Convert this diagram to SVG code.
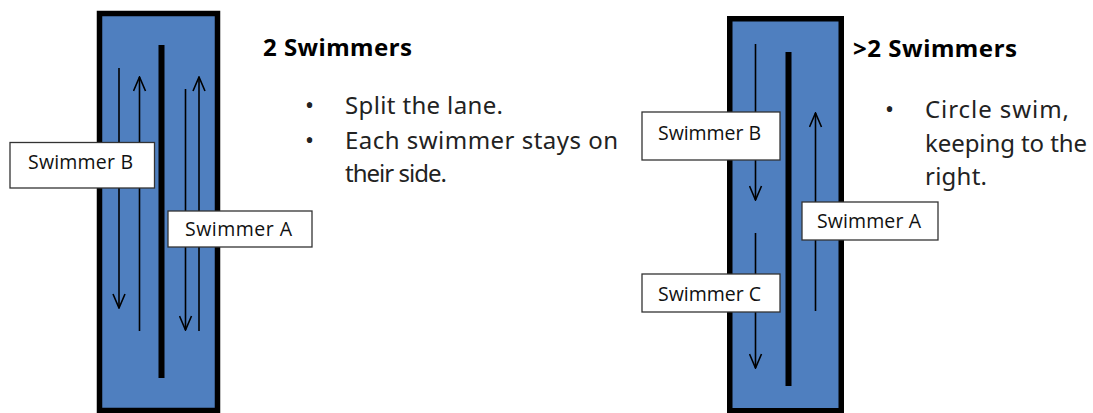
<svg xmlns="http://www.w3.org/2000/svg" width="1093" height="413" viewBox="0 0 1093 413">
<defs>
<style>
.pool{fill:#4f7fbf;stroke:#000;stroke-width:5.5}
.divider{stroke:#000;stroke-width:6}
.arr{stroke:#000;stroke-width:1.6;fill:none}
.box{fill:#fff;stroke:#333;stroke-width:1.3}
.lbl{font-family:"Open Sans","Liberation Sans",sans-serif;font-size:19.5px;fill:#111;text-anchor:middle}
.title{font-family:"Noto Sans","Liberation Sans",sans-serif;font-weight:bold;font-size:24px;fill:#000}
.body{font-family:"Noto Sans","Liberation Sans",sans-serif;font-size:24px;fill:#222}
</style>
<marker id="head" viewBox="0 0 16 14" refX="15" refY="7" markerWidth="16" markerHeight="14" markerUnits="userSpaceOnUse" orient="auto">
<path d="M1,1 L15,7 L1,13" fill="none" stroke="#000" stroke-width="1.6"/>
</marker>
</defs>
<g id="pool-left">
<rect class="pool" x="99.5" y="13.5" width="118" height="397"/>
<line class="divider" x1="161.5" y1="45" x2="161.5" y2="378"/>
</g>
<g id="pool-right">
<rect class="pool" x="729.75" y="18.75" width="111.5" height="392"/>
<line class="divider" x1="788.5" y1="52" x2="788.5" y2="386"/>
</g>
<g id="connectors">
<line class="arr" x1="119" y1="68" x2="119" y2="308" marker-end="url(#head)"/>
<line class="arr" x1="139.5" y1="331" x2="139.5" y2="77" marker-end="url(#head)"/>
<line class="arr" x1="185.5" y1="89" x2="185.5" y2="330" marker-end="url(#head)"/>
<line class="arr" x1="199" y1="331" x2="199" y2="77" marker-end="url(#head)"/>
<line class="arr" x1="755.5" y1="44" x2="755.5" y2="200" marker-end="url(#head)"/>
<line class="arr" x1="755.5" y1="233" x2="755.5" y2="368" marker-end="url(#head)"/>
<line class="arr" x1="815.5" y1="311" x2="815.5" y2="113" marker-end="url(#head)"/>
</g>
<g id="swimmer-b-left">
<rect class="box" x="10" y="142.5" width="144.5" height="45.5"/>
<text class="lbl" x="80.5" y="168.5" textLength="105">Swimmer B</text>
</g>
<g id="swimmer-a-left">
<rect class="box" x="168" y="211" width="144" height="36"/>
<text class="lbl" x="238.5" y="236" textLength="107">Swimmer A</text>
</g>
<g id="swimmer-b-right">
<rect class="box" x="642" y="112" width="138" height="48"/>
<text class="lbl" x="709.5" y="139.5" textLength="103">Swimmer B</text>
</g>
<g id="swimmer-a-right">
<rect class="box" x="802" y="202" width="136" height="38"/>
<text class="lbl" x="869" y="228" textLength="104">Swimmer A</text>
</g>
<g id="swimmer-c-right">
<rect class="box" x="642" y="274" width="138" height="38"/>
<text class="lbl" x="709.5" y="300.5" textLength="103">Swimmer C</text>
</g>
<g id="text-left">
<text class="title" x="263" y="56" textLength="149">2 Swimmers</text>
<text class="body" x="305" y="114">•</text>
<text class="body" x="345" y="114" textLength="158">Split the lane.</text>
<text class="body" x="305" y="148.5">•</text>
<text class="body" x="345" y="148.5" textLength="273">Each swimmer stays on</text>
<text class="body" x="345" y="182" textLength="102">their side.</text>
</g>
<g id="text-right">
<text class="title" x="853" y="57" textLength="164">&gt;2 Swimmers</text>
<text class="body" x="885" y="118">•</text>
<text class="body" x="925" y="118" textLength="144">Circle swim,</text>
<text class="body" x="925" y="152" textLength="162">keeping to the</text>
<text class="body" x="925" y="185" textLength="62">right.</text>
</g>
</svg>
